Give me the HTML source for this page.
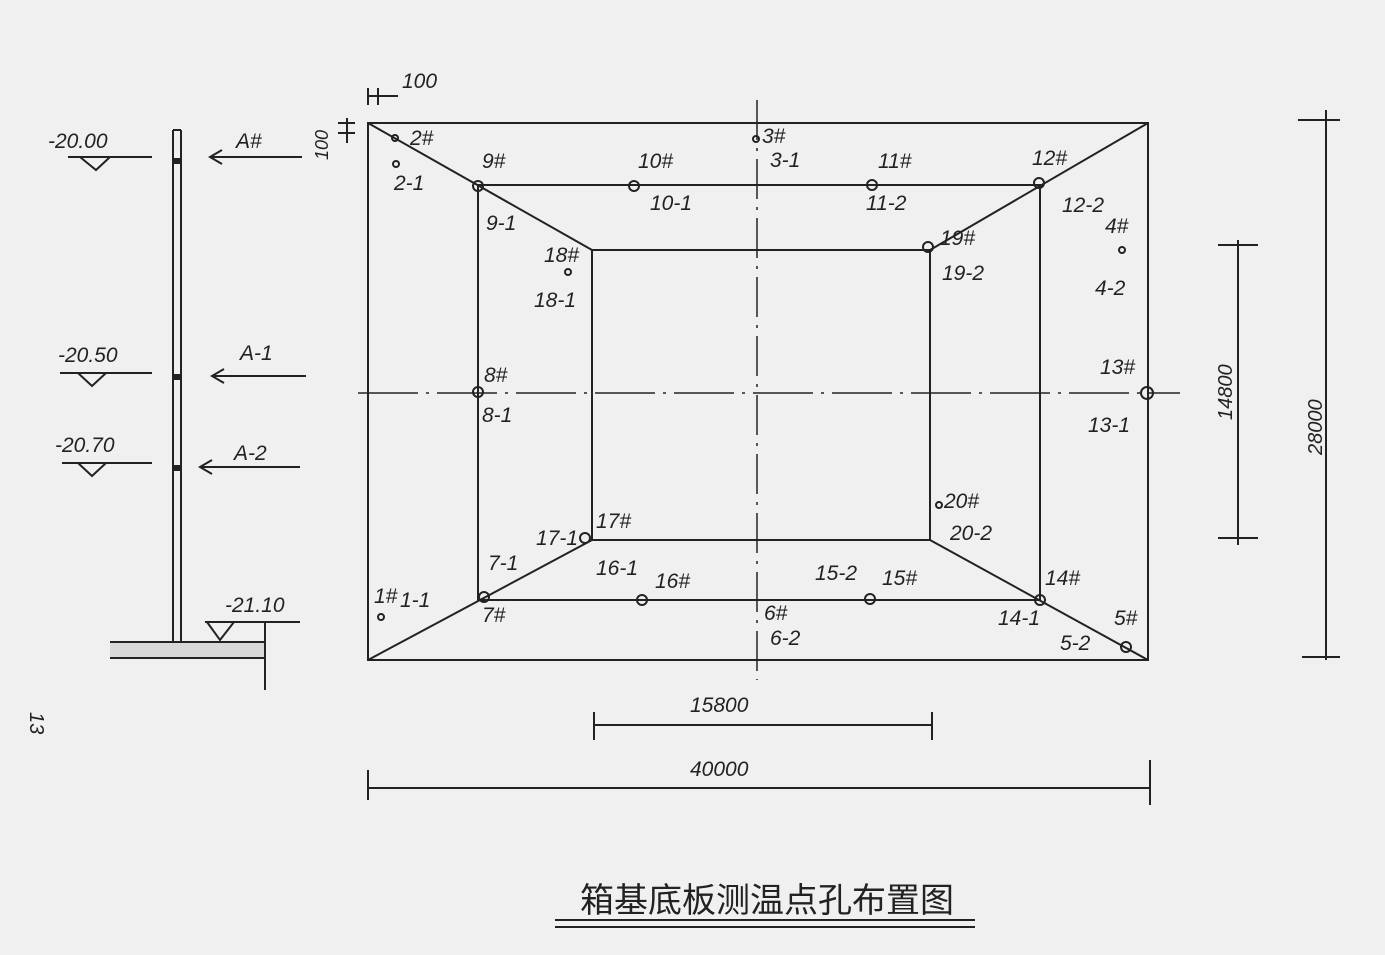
<!DOCTYPE html>
<html><head><meta charset="utf-8"><style>
body{margin:0;background:#f1f1f1;}
svg{display:block}
text{font-family:"Liberation Sans","Noto Sans CJK SC",sans-serif;fill:#222;font-style:italic}
</style></head><body>
<svg width="1385" height="955" viewBox="0 0 1385 955">
<rect width="1385" height="955" fill="#f0f0f0"/>
<rect x="110" y="642" width="155" height="16" fill="#d8d8d8"/>
<g stroke="#222" stroke-width="2" fill="none">
<rect x="368" y="123" width="780" height="537"/>
<rect x="478" y="185" width="562" height="415"/>
<rect x="592" y="250" width="338" height="290"/>
<line x1="368" y1="123" x2="592" y2="250"/>
<line x1="1148" y1="123" x2="930" y2="250"/>
<line x1="368" y1="660" x2="592" y2="540"/>
<line x1="1148" y1="660" x2="930" y2="540"/>
<line x1="757" y1="100" x2="757" y2="680" stroke-width="1.5" stroke-dasharray="40 8 3 8"/>
<line x1="358" y1="393" x2="1180" y2="393" stroke-width="1.5" stroke-dasharray="60 8 3 8"/>
<line x1="368" y1="88" x2="368" y2="105"/><line x1="378" y1="88" x2="378" y2="105"/><line x1="368" y1="96" x2="398" y2="96"/>
<line x1="338" y1="123" x2="355" y2="123"/><line x1="338" y1="133" x2="355" y2="133"/><line x1="347" y1="118" x2="347" y2="143"/>
<line x1="594" y1="712" x2="594" y2="740"/><line x1="932" y1="712" x2="932" y2="740"/><line x1="594" y1="725" x2="932" y2="725"/>
<line x1="368" y1="770" x2="368" y2="800"/><line x1="1150" y1="760" x2="1150" y2="805"/><line x1="368" y1="788" x2="1150" y2="788"/>
<line x1="1218" y1="245" x2="1258" y2="245"/><line x1="1218" y1="538" x2="1258" y2="538"/><line x1="1238" y1="240" x2="1238" y2="545"/>
<line x1="1298" y1="120" x2="1340" y2="120"/><line x1="1302" y1="657" x2="1340" y2="657"/><line x1="1326" y1="110" x2="1326" y2="660"/>
<line x1="173" y1="130" x2="173" y2="642"/><line x1="181" y1="130" x2="181" y2="642"/><line x1="173" y1="130" x2="181" y2="130"/>
<line x1="68" y1="157" x2="152" y2="157"/><path d="M80 157 L96 170 L110 157"/>
<line x1="60" y1="373" x2="152" y2="373"/><path d="M78 373 L92 386 L106 373"/>
<line x1="62" y1="463" x2="152" y2="463"/><path d="M78 463 L92 476 L106 463"/>
<line x1="210" y1="157" x2="302" y2="157"/><path d="M222 150 L210 157 L222 164"/>
<line x1="212" y1="376" x2="306" y2="376"/><path d="M224 369 L212 376 L224 383"/>
<line x1="200" y1="467" x2="300" y2="467"/><path d="M212 460 L200 467 L212 474"/>
<line x1="205" y1="622" x2="300" y2="622"/><path d="M207 622 L220 640 L234 622"/>
<line x1="110" y1="642" x2="265" y2="642"/><line x1="110" y1="658" x2="265" y2="658"/>
<line x1="265" y1="622" x2="265" y2="690"/>
<line x1="555" y1="920" x2="975" y2="920"/><line x1="555" y1="927" x2="975" y2="927"/>
</g>
<g fill="#222">
<rect x="173" y="158" width="8" height="6"/><rect x="173" y="374" width="8" height="6"/><rect x="173" y="465" width="8" height="6"/>
</g>
<g stroke="#222" stroke-width="2" fill="none">
<circle cx="478" cy="186" r="5"/><circle cx="634" cy="186" r="5"/><circle cx="872" cy="185" r="5"/><circle cx="1039" cy="183" r="5"/>
<circle cx="928" cy="247" r="5"/><circle cx="478" cy="392" r="5"/><circle cx="1147" cy="393" r="6"/>
<circle cx="585" cy="538" r="5"/><circle cx="484" cy="597" r="5"/><circle cx="642" cy="600" r="5"/><circle cx="870" cy="599" r="5"/><circle cx="1040" cy="600" r="5"/><circle cx="1126" cy="647" r="5"/>
<circle cx="395" cy="138" r="3"/><circle cx="396" cy="164" r="3"/><circle cx="756" cy="139" r="3"/><circle cx="1122" cy="250" r="3"/><circle cx="381" cy="617" r="3"/><circle cx="568" cy="272" r="3"/><circle cx="939" cy="505" r="3"/>
</g>
<g font-size="21">
<text x="410" y="145">2#</text><text x="394" y="190">2-1</text>
<text x="482" y="168">9#</text><text x="486" y="230">9-1</text>
<text x="638" y="168">10#</text><text x="650" y="210">10-1</text>
<text x="762" y="143">3#</text><text x="770" y="167">3-1</text>
<text x="878" y="168">11#</text><text x="866" y="210">11-2</text>
<text x="1032" y="165">12#</text><text x="1062" y="212">12-2</text>
<text x="1105" y="233">4#</text><text x="1095" y="295">4-2</text>
<text x="544" y="262">18#</text><text x="534" y="307">18-1</text>
<text x="940" y="245">19#</text><text x="942" y="280">19-2</text>
<text x="484" y="382">8#</text><text x="482" y="422">8-1</text>
<text x="1100" y="374">13#</text><text x="1088" y="432">13-1</text>
<text x="944" y="508">20#</text><text x="950" y="540">20-2</text>
<text x="536" y="545">17-1</text><text x="596" y="528">17#</text>
<text x="488" y="570">7-1</text><text x="482" y="622">7#</text>
<text x="596" y="575">16-1</text><text x="655" y="588">16#</text>
<text x="815" y="580">15-2</text><text x="882" y="585">15#</text>
<text x="374" y="603">1#</text><text x="400" y="607">1-1</text>
<text x="764" y="620">6#</text><text x="770" y="645">6-2</text>
<text x="1045" y="585">14#</text><text x="998" y="625">14-1</text>
<text x="1114" y="625">5#</text><text x="1060" y="650">5-2</text>
<text x="402" y="88">100</text>
<text x="690" y="712">15800</text><text x="690" y="776">40000</text>
<text x="48" y="148">-20.00</text><text x="236" y="148">A#</text>
<text x="58" y="362">-20.50</text><text x="240" y="360">A-1</text>
<text x="55" y="452">-20.70</text><text x="234" y="460">A-2</text>
<text x="225" y="612">-21.10</text>
</g>
<text x="0" y="0" font-size="20" transform="translate(1232 420) rotate(-90)">14800</text>
<text x="0" y="0" font-size="20" transform="translate(1322 455) rotate(-90)">28000</text>
<text x="0" y="0" font-size="18" transform="translate(328 160) rotate(-90)">100</text>
<text x="0" y="0" font-size="20" transform="translate(30 712) rotate(90)">13</text>
<text x="580" y="912" font-size="34" style="font-style:normal;font-family:'Liberation Sans','Noto Sans CJK SC',sans-serif">箱基底板测温点孔布置图</text>
</svg>
</body></html>
